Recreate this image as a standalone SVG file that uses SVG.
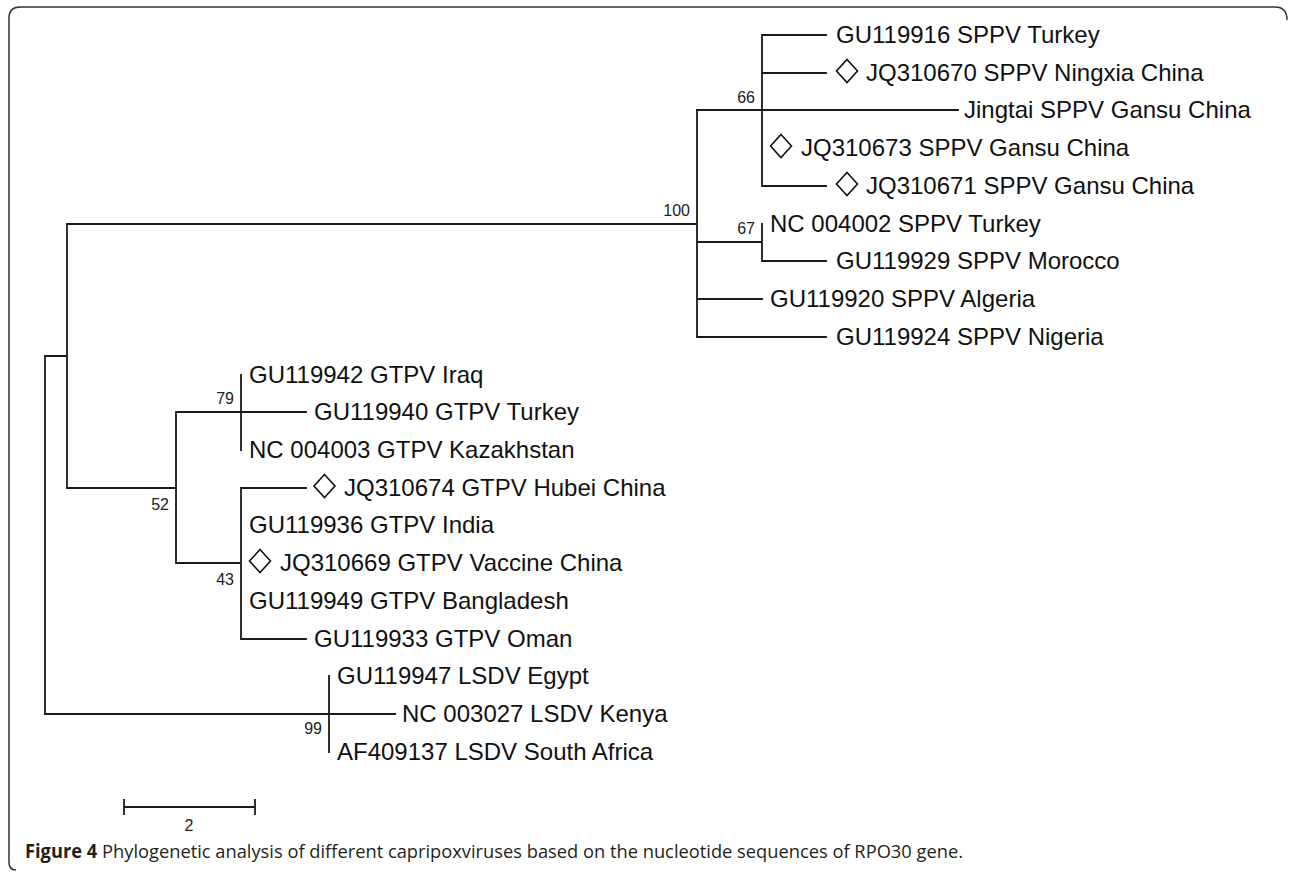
<svg xmlns="http://www.w3.org/2000/svg" xmlns:xlink="http://www.w3.org/1999/xlink" width="1290" height="873" viewBox="0 0 1290 873">
<style>
.br{fill:none;stroke:#1a1a1a;stroke-width:1.8;stroke-linecap:square}
.tip{font-family:"Liberation Sans",Arial,sans-serif;font-size:24px;fill:#111}
.bs{font-family:"Liberation Sans",Arial,sans-serif;font-size:16px;fill:#222;text-anchor:end}
.cap{font-family:"Open Sans","Liberation Sans",sans-serif;font-size:19px;fill:#231f20}
.frame{fill:none;stroke:#333;stroke-width:1.5}
</style>
<defs>
<polygon id="dia" points="0,-11.5 10.5,0 0,11.5 -10.5,0" fill="none" stroke="#111" stroke-width="1.6"/>
</defs>
<rect width="1290" height="873" fill="#fff"/>
<path class="frame" d="M1287,20 Q1287,7 1275,7 L20,7 Q9,7 9,18 L9,862 Q9,870 16,870"/>
<g id="connectors">
<path class="br" d="M45,356 V714 M45,356 H67 M67,224 V488 M67,224 H697 M697,110 V337 M697,110 H958 M762,35 V186 M762,35 H826 M762,73 H826 M762,186 H826 M697,242 H762 M762,224 V261 M762,261 H826 M697,299 H762 M697,337 H826 M67,488 H176 M176,412 V563 M176,412 H306 M241,375 V450 M176,563 H241 M241,488 V639 M241,488 H306 M241,639 H306 M45,714 H395 M329,676 V752"/>
</g>
<g id="bootstrap">
<text class="bs" x="755" y="103">66</text>
<text class="bs" x="690" y="216">100</text>
<text class="bs" x="755" y="234">67</text>
<text class="bs" x="234" y="404">79</text>
<text class="bs" x="169" y="510">52</text>
<text class="bs" x="234" y="585">43</text>
<text class="bs" x="322" y="734">99</text>
</g>
<g id="n-GU119916"><text class="tip" x="836" y="43">GU119916 SPPV Turkey</text></g>
<g id="n-JQ310670"><use xlink:href="#dia" x="847" y="71"/><text class="tip" x="866" y="81">JQ310670 SPPV Ningxia China</text></g>
<g id="n-Jingtai"><text class="tip" x="964" y="118">Jingtai SPPV Gansu China</text></g>
<g id="n-JQ310673"><use xlink:href="#dia" x="781" y="146"/><text class="tip" x="801" y="156">JQ310673 SPPV Gansu China</text></g>
<g id="n-JQ310671"><use xlink:href="#dia" x="847" y="184"/><text class="tip" x="866" y="194">JQ310671 SPPV Gansu China</text></g>
<g id="n-NC004002"><text class="tip" x="770" y="232">NC 004002 SPPV Turkey</text></g>
<g id="n-GU119929"><text class="tip" x="836" y="269">GU119929 SPPV Morocco</text></g>
<g id="n-GU119920"><text class="tip" x="770" y="307">GU119920 SPPV Algeria</text></g>
<g id="n-GU119924"><text class="tip" x="836" y="345">GU119924 SPPV Nigeria</text></g>
<g id="n-GU119942"><text class="tip" x="249" y="383">GU119942 GTPV Iraq</text></g>
<g id="n-GU119940"><text class="tip" x="314" y="420">GU119940 GTPV Turkey</text></g>
<g id="n-NC004003"><text class="tip" x="249" y="458">NC 004003 GTPV Kazakhstan</text></g>
<g id="n-JQ310674"><use xlink:href="#dia" x="324.5" y="486"/><text class="tip" x="344" y="496">JQ310674 GTPV Hubei China</text></g>
<g id="n-GU119936"><text class="tip" x="249" y="533">GU119936 GTPV India</text></g>
<g id="n-JQ310669"><use xlink:href="#dia" x="260" y="561"/><text class="tip" x="280" y="571">JQ310669 GTPV Vaccine China</text></g>
<g id="n-GU119949"><text class="tip" x="249" y="609">GU119949 GTPV Bangladesh</text></g>
<g id="n-GU119933"><text class="tip" x="314" y="647">GU119933 GTPV Oman</text></g>
<g id="n-GU119947"><text class="tip" x="337" y="684">GU119947 LSDV Egypt</text></g>
<g id="n-NC003027"><text class="tip" x="402" y="722">NC 003027 LSDV Kenya</text></g>
<g id="n-AF409137"><text class="tip" x="337" y="760">AF409137 LSDV South Africa</text></g>
<g id="scalebar">
<path class="br" d="M124,807 H255 M124,800 V814 M255,800 V814"/>
<text class="bs" x="189" y="831" style="text-anchor:middle">2</text>
</g>
<text class="cap" x="25" y="858" textLength="938" lengthAdjust="spacingAndGlyphs"><tspan font-weight="bold">Figure 4</tspan> Phylogenetic analysis of different capripoxviruses based on the nucleotide sequences of RPO30 gene.</text>
</svg>
